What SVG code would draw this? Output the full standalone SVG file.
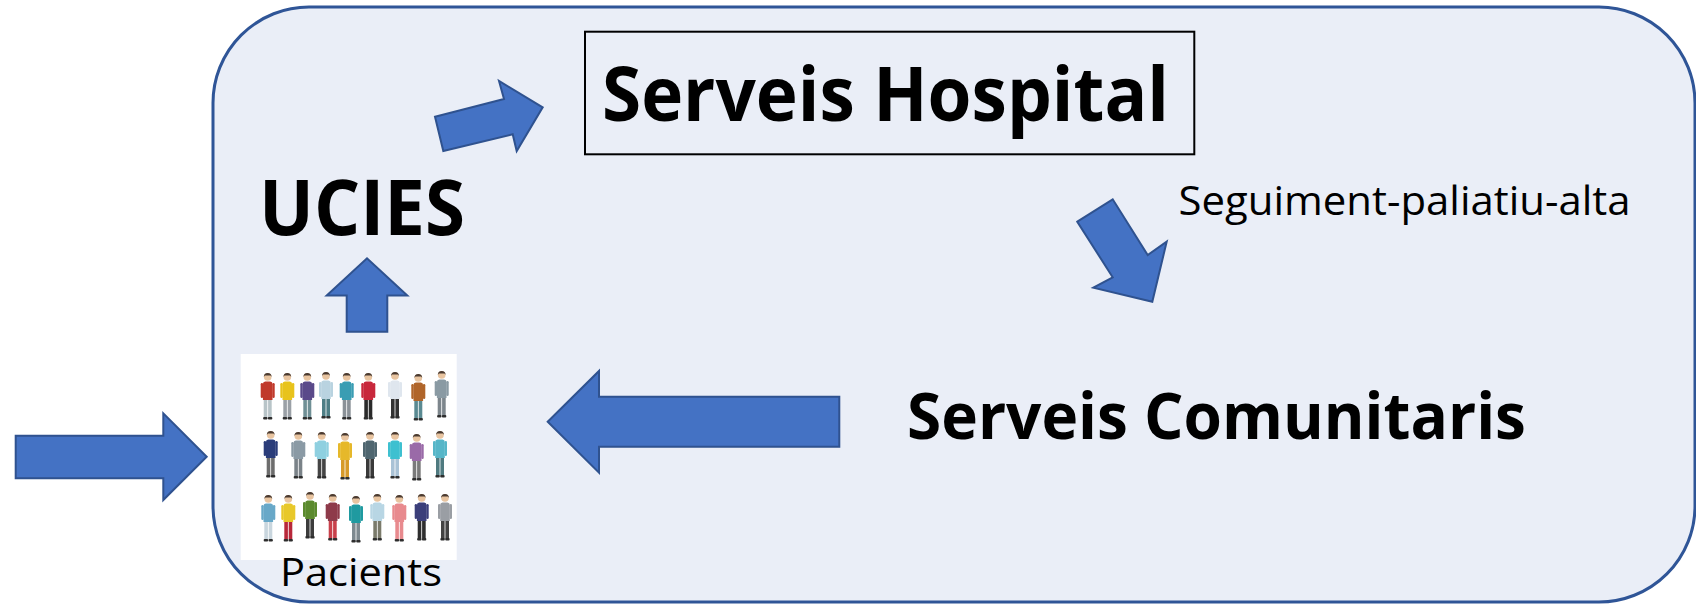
<svg xmlns="http://www.w3.org/2000/svg" xmlns:xlink="http://www.w3.org/1999/xlink" width="1696" height="605" viewBox="0 0 1696 605">
<style>
.frame{fill:#EAEEF7;stroke:#2F5597;stroke-width:3}
.arrow{fill:#4472C4;stroke:#2F528F;stroke-width:2;stroke-linejoin:miter}
.big{font-family:"Open Sans","Liberation Sans",sans-serif;font-weight:bold;fill:#000}
.reg{font-family:"Open Sans","Liberation Sans",sans-serif;font-weight:normal;fill:#000}
.skin{fill:#E8C4A0}
.hair{fill:#4A3A30}
.shoe{fill:#2E2E2E}
</style>
<defs>
<g id="person">
<rect x="-4" y="26" width="3.6" height="20" rx="1"/>
<rect x="0.4" y="26" width="3.6" height="20" rx="1"/>
<rect class="shoe" x="-4.6" y="45" width="4.4" height="2.5" rx="1"/>
<rect class="shoe" x="0.2" y="45" width="4.4" height="2.5" rx="1"/>
<rect x="-7" y="11" width="2.4" height="15" rx="1.2" fill="currentColor"/>
<rect x="4.6" y="11" width="2.4" height="15" rx="1.2" fill="currentColor"/>
<path d="M-4.8,12 Q-4.8,9.5 -2.5,9.5 L2.5,9.5 Q4.8,9.5 4.8,12 L4.8,28 L-4.8,28 Z" fill="currentColor"/>
<circle class="skin" cx="0" cy="5" r="3.8"/>
<path class="hair" d="M-3.9,5 A3.9,3.9 0 0 1 3.9,5 L2.9,3.6 L-2.9,3.6 Z"/>
</g>
</defs>

<rect id="frame" class="frame" x="213" y="7" width="1482" height="595" rx="96" ry="96"/>

<g id="connectors">
<polygon id="arrow-entry" class="arrow" points="15.7,435.7 163.3,435.7 163.3,413.3 206.7,456.7 163.3,500 163.3,478.3 15.7,478.3"/>
<polygon id="arrow-pacients-ucies" class="arrow" points="346.7,331.7 346.7,295.5 326.7,295.5 367,258.3 407.3,295.5 387.3,295.5 387.3,331.7"/>
<polygon id="arrow-ucies-hospital" class="arrow" points="443.3,151 435,116.7 504,99 499,81 542.7,107.3 516.7,151 512.7,134.3"/>
<polygon id="arrow-hospital-comunitaris" class="arrow" points="1077.3,221.7 1112.7,199.3 1147.7,255 1166.7,241.7 1152.3,301.7 1093.3,287.7 1112.7,277.3"/>
<polygon id="arrow-comunitaris-pacients" class="arrow" points="547.7,421.8 599,371 599,396.7 839.3,396.7 839.3,446.7 599,446.7 599,472.7"/>
<text id="label-seguiment" class="reg" x="1178.5" y="215" font-size="40" textLength="452" lengthAdjust="spacingAndGlyphs">Seguiment-paliatiu-alta</text>
</g>

<g id="node-hospital">
<rect x="585" y="31.7" width="609.3" height="122.6" fill="none" stroke="#000" stroke-width="2"/>
<text class="big" x="602" y="120.7" font-size="76" textLength="567" lengthAdjust="spacingAndGlyphs">Serveis Hospital</text>
</g>

<g id="node-ucies">
<text class="big" x="259" y="235" font-size="77" textLength="206" lengthAdjust="spacingAndGlyphs">UCIES</text>
</g>

<g id="node-comunitaris">
<text class="big" x="907" y="439" font-size="65" textLength="619" lengthAdjust="spacingAndGlyphs">Serveis Comunitaris</text>
</g>

<g id="node-pacients">
<rect x="240.7" y="354" width="216" height="206" fill="#FFFFFF"/>
<g id="people-row1">
<use href="#person" transform="translate(267.7,372)" color="#C0392B" fill="#B8C4C8"/>
<use href="#person" transform="translate(287.3,372)" color="#E8C31C" fill="#9AA0A6"/>
<use href="#person" transform="translate(307.3,372)" color="#5A4A8A" fill="#6F8F95"/>
<use href="#person" transform="translate(326,371)" color="#B9D3E0" fill="#4F7F86"/>
<use href="#person" transform="translate(346.7,372)" color="#3A9DB3" fill="#8A9197"/>
<use href="#person" transform="translate(368.3,372)" color="#C8283C" fill="#2A2A2A"/>
<use href="#person" transform="translate(395,371)" color="#DFE6EE" fill="#333333"/>
<use href="#person" transform="translate(418.3,373)" color="#B0652A" fill="#5A8A92"/>
<use href="#person" transform="translate(441.7,370)" color="#8A9AA3" fill="#7D868C"/>
</g>
<g id="people-row2">
<use href="#person" transform="translate(270.7,430)" color="#2B3D7A" fill="#6D6D6D"/>
<use href="#person" transform="translate(298.3,431)" color="#8A9AA5" fill="#7A8288"/>
<use href="#person" transform="translate(321.7,431)" color="#8FD0E0" fill="#444444"/>
<use href="#person" transform="translate(345,432)" color="#E6B82A" fill="#D79A2A"/>
<use href="#person" transform="translate(370,431)" color="#4F6670" fill="#3A3A3A"/>
<use href="#person" transform="translate(395,431)" color="#3EC0D0" fill="#A9C2D6"/>
<use href="#person" transform="translate(416.7,433)" color="#9A6AA8" fill="#7A7A7A"/>
<use href="#person" transform="translate(440,430)" color="#56B6C8" fill="#4F7A80"/>
</g>
<g id="people-row3">
<use href="#person" transform="translate(268.3,494)" color="#68A8C8" fill="#C9D6DE"/>
<use href="#person" transform="translate(288.3,494)" color="#E8C82A" fill="#B8283A"/>
<use href="#person" transform="translate(310,491)" color="#5B8A2E" fill="#3C3C3C"/>
<use href="#person" transform="translate(332.7,493)" color="#8E3A4A" fill="#C8404A"/>
<use href="#person" transform="translate(356,495)" color="#1F9AA0" fill="#7E8A90"/>
<use href="#person" transform="translate(377.3,493)" color="#B8D6E4" fill="#7A7A6A"/>
<use href="#person" transform="translate(399.3,494)" color="#E88A8E" fill="#E88A8E"/>
<use href="#person" transform="translate(421.7,493)" color="#3B3F7A" fill="#2E2E2E"/>
<use href="#person" transform="translate(445,493)" color="#9A9EA4" fill="#444444"/>
</g>
<text class="reg" x="280" y="586" font-size="39" textLength="162" lengthAdjust="spacingAndGlyphs">Pacients</text>
</g>
</svg>
